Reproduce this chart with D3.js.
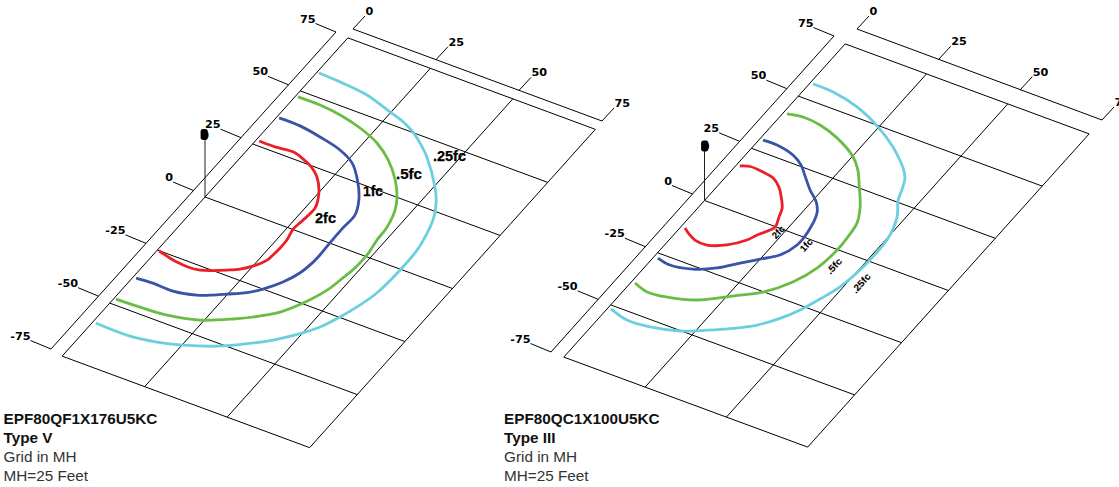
<!DOCTYPE html>
<html>
<head>
<meta charset="utf-8">
<script src="https://cdn.jsdelivr.net/npm/d3@7/dist/d3.min.js"></script>
<style>
html,body{margin:0;padding:0;background:#fff;overflow:hidden}
svg{display:block}
</style>
</head>
<body>
<svg id="c" width="1119" height="487"></svg>
<script>
// ---- shared tick values (grid in mounting heights x 1/25)
const xTicks = [0, 25, 50, 75];
const yTicks = [75, 50, 25, 0, -25, -50, -75];
const levels = ["2fc", "1fc", ".5fc", ".25fc"];

// ---- Type V contours: [x, y] in grid units
const typeV_2fc = [[0.9,26.9],[5.7,26.9],[10.8,27.5],[14.5,26.3],[18.4,24.3],[21.4,21.7],[24.5,17.4],[26.3,13.7],[27.3,10.5],[27.0,4.2],[26.6,0.2],[27.4,-4.5],[27.5,-8.2],[27.3,-11.6],[27.0,-14.2],[25.0,-18.2],[22.7,-20.9],[19.9,-23.0],[16.8,-25.0],[13.8,-26.5],[10.4,-27.0],[6.9,-26.7],[3.4,-25.9],[0.6,-25.1]];
const typeV_1fc = [[0.7,37.7],[7.1,37.6],[13.9,36.3],[21.1,34.3],[26.5,31.3],[31.7,25.3],[35.6,19.1],[37.8,13.3],[37.7,7.1],[37.8,0.1],[38.0,-5.5],[37.9,-8.9],[37.1,-14.5],[35.1,-19.9],[32.0,-25.0],[29.1,-28.3],[24.8,-31.5],[21.8,-33.7],[18.2,-35.8],[11.9,-37.5],[5.7,-37.3],[0.9,-37.7]];
const typeV_05fc = [[0.7,47.6],[7.4,47.6],[14.0,46.7],[21.2,44.7],[28.1,41.6],[34.1,37.1],[39.8,30.9],[43.7,25.1],[45.9,20.3],[47.2,15.4],[47.7,11.9],[47.9,7.3],[48.6,2.1],[48.7,-0.3],[48.6,-5.5],[47.9,-10.6],[46.8,-17.0],[44.0,-24.7],[40.6,-30.9],[36.2,-35.5],[31.3,-39.5],[24.0,-44.2],[15.5,-46.8],[7.7,-47.5],[0.6,-47.8]];
const typeV_025fc = [[0.6,58.8],[7.2,58.4],[16.0,57.3],[24.7,54.3],[29.3,52.7],[34.0,50.2],[38.5,46.7],[42.3,43.2],[50.3,33.6],[53.2,29.2],[55.4,24.8],[56.8,20.9],[57.9,16.3],[59.1,9.0],[59.3,-0.3],[58.7,-11.5],[57.3,-18.0],[55.2,-24.8],[52.7,-31.0],[49.9,-35.5],[44.7,-41.7],[39.5,-46.4],[33.2,-51.2],[25.2,-55.3],[18.7,-57.6],[10.4,-59.1],[0.9,-58.9]];

// ---- Type III contours: [x, y] in grid units
const typeIII_2fc = [[1.0,17.1],[3.5,18.3],[7.6,18.0],[11.2,17.2],[14.4,14.7],[16.5,12.1],[19.5,7.6],[20.6,4.0],[21.8,-0.2],[19.3,-5.4],[18.0,-8.6],[14.4,-13.0],[9.8,-15.7],[6.0,-15.5],[3.4,-14.1],[1.2,-12.5]];
const typeIII_1fc = [[1.0,29.5],[5.2,29.6],[11.0,28.1],[14.9,25.6],[18.1,22.2],[22.2,17.8],[26.1,14.3],[28.6,10.4],[30.4,2.4],[30.6,-3.7],[28.7,-9.6],[25.0,-13.7],[21.2,-17.8],[16.9,-22.6],[11.6,-26.2],[5.4,-27.8],[1.2,-26.9]];
const typeIII_05fc = [[1.1,42.1],[5.4,43.1],[11.0,42.5],[17.6,40.1],[25.3,35.4],[29.1,31.3],[32.5,26.1],[37.3,18.3],[39.9,12.1],[40.7,5.4],[40.9,-0.2],[40.0,-9.4],[37.3,-17.6],[32.5,-25.2],[27.8,-29.3],[25.2,-31.7],[18.9,-36.8],[11.4,-39.7],[5.7,-40.5],[1.1,-38.9]];
const typeIII_025fc = [[0.9,56.3],[7.2,56.1],[15.8,53.9],[24.8,49.5],[32.4,44.3],[36.7,40.5],[39.7,37.4],[41.6,34.7],[43.4,30.0],[44.6,25.9],[47.9,19.6],[50.2,10.9],[50.5,-0.9],[49.2,-13.1],[47.1,-20.1],[44.8,-26.7],[41.9,-32.4],[38.0,-37.8],[32.5,-42.7],[27.5,-46.3],[21.4,-50.2],[13.7,-52.7],[6.9,-53.3],[0.9,-51.4]];

// ---- captions
const captionV = ["EPF80QF1X176U5KC", "Type V", "Grid in MH", "MH=25 Feet"];
const captionIII = ["EPF80QC1X100U5KC", "Type III", "Grid in MH", "MH=25 Feet"];

// ---- layout and style (pixels), separate from data
const levelColor = d3.scaleOrdinal().domain(levels).range(["#ed1f26", "#3a53a4", "#69bd45", "#6ccfdf"]);
const panels = [
  {
    curves: [typeV_2fc, typeV_1fc, typeV_05fc, typeV_025fc], caption: captionV, capX: 3.5,
    origin: [205, 197], xVec: [247.5, 91.5], yVec: [142.85, -159.15],
    xBar: [[353, 29], [602, 121]], yBar: [[336, 32], [51, 349]],
    lumTop: 135, lum: [204, 134.5],
    labels: [{t:"2fc",x:325.5,y:218,w:21},{t:"1fc",x:373,y:191,w:20},{t:".5fc",x:409,y:174,w:26},{t:".25fc",x:449.5,y:156,w:33}],
    labelSize: 14, rotate: 0, labelStroke: 0.25
  },
  {
    curves: [typeIII_2fc, typeIII_1fc, typeIII_05fc, typeIII_025fc], caption: captionIII, capX: 504,
    origin: [704.5, 200.5], xVec: [243.9, 90], yVec: [140.7, -156.6],
    xBar: [[857, 29], [1102, 120]], yBar: [[834, 36], [551, 352]],
    lumTop: 147, lum: [704.5, 146],
    labels: [{t:"2fc",x:778,y:232,w:14},{t:"1fc",x:806,y:245,w:14},{t:".5fc",x:834,y:266,w:18},{t:".25fc",x:861,y:283,w:23}],
    labelSize: 9.5, rotate: -48, labelStroke: 0.1
  }
];

const svg = d3.select("#c");
const tickFont = "'DejaVu Sans', sans-serif";
const textFont = "'Liberation Sans', Arial, sans-serif";
const tickSize = 11.2;

panels.forEach(p => {
  const g = svg.append("g");
  // Affine ground-plane projection built from linear scales
  const xToSx = d3.scaleLinear().domain([0, 75]).range([0, p.xVec[0]]);
  const xToSy = d3.scaleLinear().domain([0, 75]).range([0, p.xVec[1]]);
  const yToSx = d3.scaleLinear().domain([0, 75]).range([0, p.yVec[0]]);
  const yToSy = d3.scaleLinear().domain([0, 75]).range([0, p.yVec[1]]);
  const project = (x, y) => [p.origin[0] + xToSx(x) + yToSx(y), p.origin[1] + xToSy(x) + yToSy(y)];

  // Grid
  const gridLine = d3.line();
  const xExt = d3.extent(xTicks), yExt = d3.extent(yTicks);
  yTicks.forEach(v => g.append("path").attr("d", gridLine([project(xExt[0], v), project(xExt[1], v)]))
    .attr("fill", "none").attr("stroke", "#000").attr("stroke-width", 1));
  xTicks.forEach(v => g.append("path").attr("d", gridLine([project(v, yExt[0]), project(v, yExt[1])]))
    .attr("fill", "none").attr("stroke", "#000").attr("stroke-width", 1));

  // Offset axis bars with ticks and labels
  const barXx = d3.scaleLinear().domain(xExt).range([p.xBar[0][0], p.xBar[1][0]]);
  const barXy = d3.scaleLinear().domain(xExt).range([p.xBar[0][1], p.xBar[1][1]]);
  const barYx = d3.scaleLinear().domain([75, -75]).range([p.yBar[0][0], p.yBar[1][0]]);
  const barYy = d3.scaleLinear().domain([75, -75]).range([p.yBar[0][1], p.yBar[1][1]]);
  const ln = (a, b) => g.append("line").attr("x1", a[0]).attr("y1", a[1]).attr("x2", b[0]).attr("y2", b[1])
    .attr("stroke", "#000").attr("stroke-width", 1);
  ln(p.xBar[0], p.xBar[1]);
  ln(p.yBar[0], p.yBar[1]);
  xTicks.forEach(v => {
    const a = [barXx(v), barXy(v)], b = [a[0] + 12, a[1] - 13];
    ln(a, b);
    g.append("text").attr("x", b[0] + 0.5).attr("y", b[1] - 1).text(v)
      .attr("font-family", tickFont).attr("font-weight", "bold").attr("font-size", tickSize).attr("fill", "#000");
  });
  yTicks.forEach(v => {
    const a = [barYx(v), barYy(v)], b = [a[0] - 20.5, a[1] - 8.5];
    ln(a, b);
    g.append("text").attr("x", b[0]).attr("y", b[1] - 1).attr("text-anchor", "end").text(v)
      .attr("font-family", tickFont).attr("font-weight", "bold").attr("font-size", tickSize).attr("fill", "#000");
  });

  // Luminaire pole
  g.append("line").attr("x1", p.origin[0]).attr("y1", p.origin[1]).attr("x2", p.origin[0]).attr("y2", p.lumTop)
    .attr("stroke", "#222").attr("stroke-width", 1);
  g.append("rect").attr("x", p.lum[0] - 3.4).attr("y", p.lum[1] - 5.4).attr("width", 7.2).attr("height", 10.8)
    .attr("rx", 2.6).attr("fill", "#000");
  g.append("text").attr("x", p.lum[0] + 1.2).attr("y", p.lum[1] + 4.2).attr("text-anchor", "middle").text("0")
    .attr("font-family", tickFont).attr("font-weight", "bold").attr("font-size", tickSize).attr("fill", "#000");

  // Iso-footcandle contours
  const contour = d3.line().x(d => project(d[0], d[1])[0]).y(d => project(d[0], d[1])[1]).curve(d3.curveCatmullRom.alpha(0.5));
  p.curves.forEach((c, i) => g.append("path").attr("d", contour(c)).attr("fill", "none")
    .attr("stroke", levelColor(levels[i])).attr("stroke-width", 2.8));

  // Contour labels
  p.labels.forEach(l => g.append("text")
    .attr("transform", `translate(${l.x},${l.y}) rotate(${p.rotate})`)
    .attr("text-anchor", "middle").attr("dominant-baseline", "central")
    .attr("font-family", textFont).attr("font-weight", "bold").attr("font-size", p.labelSize)
    .attr("textLength", l.w).attr("lengthAdjust", "spacingAndGlyphs").attr("fill", "#000")
    .attr("stroke", "#000").attr("stroke-width", p.labelStroke).text(l.t));

  // Caption
  const baselines = [423.5, 443, 462, 481];
  p.caption.forEach((t, i) => g.append("text").attr("x", p.capX).attr("y", baselines[i]).text(t)
    .attr("font-family", textFont).attr("font-size", 15.3)
    .attr("font-weight", i < 2 ? "bold" : "normal").attr("fill", i < 2 ? "#111" : "#333"));
});
</script>
</body>
</html>
